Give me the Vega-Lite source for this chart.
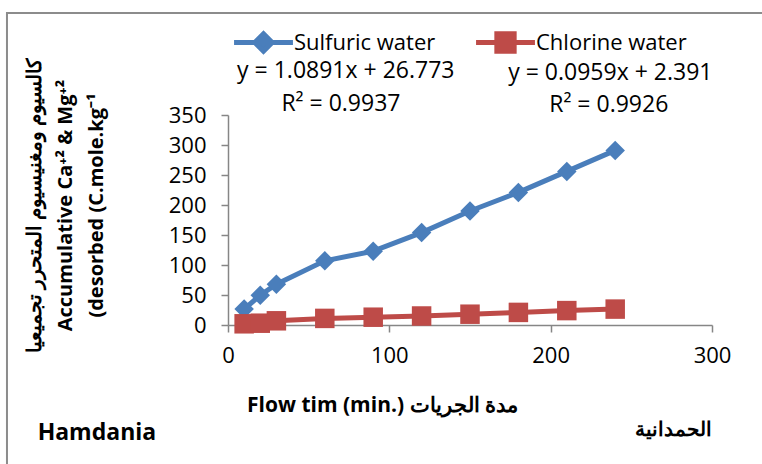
{
  "$schema": "https://vega.github.io/schema/vega-lite/v6.json",
  "width": 484,
  "height": 210,
  "autosize": {"type": "none"},
  "padding": {"left": 228, "top": 115, "right": 50, "bottom": 139},
  "background": "white",
  "config": {
    "view": {"stroke": null},
    "font": "Open Sans",
    "axisX": {
      "grid": false, "labelFlush": false, "labelOverlap": false, "tickCount": 3,
      "domainColor": "#868686", "tickColor": "#868686", "domainWidth": 1.5, "tickWidth": 1.5,
      "tickSize": 7, "labelFont": "Open Sans", "labelFontSize": 22, "labelColor": "black", "labelPadding": 13,
      "titleFont": "Open Sans", "titleFontWeight": "bold", "titleFontSize": 21, "titleColor": "black",
      "titleX": 154, "titleY": 80, "titleBaseline": "middle", "titleAlign": "center"
    },
    "axisY": {
      "grid": false, "labelOverlap": false, "tickCount": 7,
      "domainColor": "#868686", "tickColor": "#868686", "domainWidth": 1.5, "tickWidth": 1.5,
      "tickSize": 7, "labelFont": "Open Sans", "labelFontSize": 22, "labelColor": "black", "labelPadding": 15,
      "titleFont": "Open Sans", "titleFontWeight": "bold", "titleFontSize": 20, "titleColor": "black",
      "titleAngle": 270, "titleX": -204, "titleY": 90, "titleAlign": "center", "titleBaseline": "top",
      "titleLineHeight": 31
    }
  },
  "data": {
    "values": [
      {"series": "Sulfuric water", "time": 10, "value": 26.5},
      {"series": "Sulfuric water", "time": 20, "value": 49.7},
      {"series": "Sulfuric water", "time": 30, "value": 68},
      {"series": "Sulfuric water", "time": 60, "value": 107},
      {"series": "Sulfuric water", "time": 90, "value": 123},
      {"series": "Sulfuric water", "time": 120, "value": 154},
      {"series": "Sulfuric water", "time": 150, "value": 190},
      {"series": "Sulfuric water", "time": 180, "value": 221},
      {"series": "Sulfuric water", "time": 210, "value": 256},
      {"series": "Sulfuric water", "time": 240, "value": 291},
      {"series": "Chlorine water", "time": 10, "value": 2},
      {"series": "Chlorine water", "time": 20, "value": 3},
      {"series": "Chlorine water", "time": 30, "value": 7},
      {"series": "Chlorine water", "time": 60, "value": 11},
      {"series": "Chlorine water", "time": 90, "value": 13},
      {"series": "Chlorine water", "time": 120, "value": 15},
      {"series": "Chlorine water", "time": 150, "value": 18},
      {"series": "Chlorine water", "time": 180, "value": 21},
      {"series": "Chlorine water", "time": 210, "value": 24},
      {"series": "Chlorine water", "time": 240, "value": 26.5}
    ]
  },
  "layer": [
    {
      "data": {"values": [{"frame": "chart area"}]},
      "mark": {"type": "rect", "fill": null, "stroke": "#8c8c8c", "strokeWidth": 2},
      "encoding": {
        "x": {"datum": -137, "type": "quantitative", "scale": {"domain": [0, 300], "nice": false, "zero": false}, "axis": {"title": "Flow tim (min.) مدة الجريات"}},
        "x2": {"datum": 340},
        "y": {"datum": 520, "type": "quantitative", "scale": {"domain": [0, 350], "nice": false, "zero": false}, "axis": {"title": ["كالسيوم ومغنيسيوم المتحرر تجميعيا", "Accumulative Ca⁺² & Mg⁺²", "(desorbed (C.mole.kg⁻¹"]}},
        "y2": {"datum": -260}
      }
    },
    {
      "transform": [{"filter": "datum.series === 'Sulfuric water'"}],
      "layer": [
        {
          "mark": {"type": "line", "strokeWidth": 5},
          "encoding": {
            "x": {"field": "time", "type": "quantitative", "axis": {"title": "Flow tim (min.) مدة الجريات"}},
            "y": {"field": "value", "type": "quantitative", "axis": {"title": ["كالسيوم ومغنيسيوم المتحرر تجميعيا", "Accumulative Ca⁺² & Mg⁺²", "(desorbed (C.mole.kg⁻¹"]}},
            "color": {
              "field": "series", "type": "nominal",
              "scale": {"domain": ["Sulfuric water"], "range": ["#4A7EBB"]},
              "legend": {
                "orient": "none", "legendX": 24, "legendY": -84, "title": null, "padding": 0,
                "labelFont": "Open Sans", "labelFontSize": 22, "labelColor": "black",
                "symbolType": "M-3.4,0L3.4,0M-1,0L0,-1L1,0L0,1Z",
                "symbolSize": 300, "labelOffset": 19,
                "symbolStrokeWidth": 5, "symbolFillColor": "#4A7EBB", "symbolStrokeColor": "#4A7EBB"
              }
            }
          }
        },
        {
          "mark": {"type": "point", "shape": "diamond", "filled": true, "size": 380, "color": "#4A7EBB", "opacity": 1},
          "encoding": {
            "x": {"field": "time", "type": "quantitative", "axis": {"title": "Flow tim (min.) مدة الجريات"}},
            "y": {"field": "value", "type": "quantitative", "axis": {"title": ["كالسيوم ومغنيسيوم المتحرر تجميعيا", "Accumulative Ca⁺² & Mg⁺²", "(desorbed (C.mole.kg⁻¹"]}}
          }
        }
      ]
    },
    {
      "transform": [{"filter": "datum.series === 'Chlorine water'"}],
      "layer": [
        {
          "mark": {"type": "line", "strokeWidth": 5},
          "encoding": {
            "x": {"field": "time", "type": "quantitative", "axis": {"title": "Flow tim (min.) مدة الجريات"}},
            "y": {"field": "value", "type": "quantitative", "axis": {"title": ["كالسيوم ومغنيسيوم المتحرر تجميعيا", "Accumulative Ca⁺² & Mg⁺²", "(desorbed (C.mole.kg⁻¹"]}},
            "color": {
              "field": "series", "type": "nominal",
              "scale": {"domain": ["Chlorine water"], "range": ["#BE4B48"]},
              "legend": {
                "orient": "none", "legendX": 266, "legendY": -84, "title": null, "padding": 0,
                "labelFont": "Open Sans", "labelFontSize": 22, "labelColor": "black",
                "symbolType": "M-3.4,0L3.4,0M-1,-1L1,-1L1,1L-1,1Z",
                "symbolSize": 300, "labelOffset": 19,
                "symbolStrokeWidth": 5, "symbolFillColor": "#BE4B48", "symbolStrokeColor": "#BE4B48"
              }
            }
          }
        },
        {
          "mark": {"type": "point", "shape": "square", "filled": true, "size": 380, "color": "#BE4B48", "opacity": 1},
          "encoding": {
            "x": {"field": "time", "type": "quantitative", "axis": {"title": "Flow tim (min.) مدة الجريات"}},
            "y": {"field": "value", "type": "quantitative", "axis": {"title": ["كالسيوم ومغنيسيوم المتحرر تجميعيا", "Accumulative Ca⁺² & Mg⁺²", "(desorbed (C.mole.kg⁻¹"]}}
          }
        }
      ]
    },
    {
      "data": {"values": [{"label": "y = 1.0891x + 26.773"}]},
      "mark": {"type": "text", "font": "Open Sans", "fontSize": 23, "color": "black", "align": "center", "baseline": "middle"},
      "encoding": {"x": {"datum": 73, "type": "quantitative", "axis": {"title": "Flow tim (min.) مدة الجريات"}}, "y": {"datum": 423, "type": "quantitative", "axis": {"title": ["كالسيوم ومغنيسيوم المتحرر تجميعيا", "Accumulative Ca⁺² & Mg⁺²", "(desorbed (C.mole.kg⁻¹"]}}, "text": {"field": "label"}}
    },
    {
      "data": {"values": [{"label": "R² = 0.9937"}]},
      "mark": {"type": "text", "font": "Open Sans", "fontSize": 23, "color": "black", "align": "center", "baseline": "middle"},
      "encoding": {"x": {"datum": 70, "type": "quantitative", "axis": {"title": "Flow tim (min.) مدة الجريات"}}, "y": {"datum": 369, "type": "quantitative", "axis": {"title": ["كالسيوم ومغنيسيوم المتحرر تجميعيا", "Accumulative Ca⁺² & Mg⁺²", "(desorbed (C.mole.kg⁻¹"]}}, "text": {"field": "label"}}
    },
    {
      "data": {"values": [{"label": "y = 0.0959x + 2.391"}]},
      "mark": {"type": "text", "font": "Open Sans", "fontSize": 23, "color": "black", "align": "center", "baseline": "middle"},
      "encoding": {"x": {"datum": 237, "type": "quantitative", "axis": {"title": "Flow tim (min.) مدة الجريات"}}, "y": {"datum": 420, "type": "quantitative", "axis": {"title": ["كالسيوم ومغنيسيوم المتحرر تجميعيا", "Accumulative Ca⁺² & Mg⁺²", "(desorbed (C.mole.kg⁻¹"]}}, "text": {"field": "label"}}
    },
    {
      "data": {"values": [{"label": "R² = 0.9926"}]},
      "mark": {"type": "text", "font": "Open Sans", "fontSize": 23, "color": "black", "align": "center", "baseline": "middle"},
      "encoding": {"x": {"datum": 236, "type": "quantitative", "axis": {"title": "Flow tim (min.) مدة الجريات"}}, "y": {"datum": 367, "type": "quantitative", "axis": {"title": ["كالسيوم ومغنيسيوم المتحرر تجميعيا", "Accumulative Ca⁺² & Mg⁺²", "(desorbed (C.mole.kg⁻¹"]}}, "text": {"field": "label"}}
    },
    {
      "data": {"values": [{"label": "Hamdania"}]},
      "mark": {"type": "text", "font": "Open Sans", "fontSize": 23, "fontWeight": "bold", "color": "black", "align": "left", "baseline": "middle"},
      "encoding": {"x": {"datum": -118, "type": "quantitative", "axis": {"title": "Flow tim (min.) مدة الجريات"}}, "y": {"datum": -180, "type": "quantitative", "axis": {"title": ["كالسيوم ومغنيسيوم المتحرر تجميعيا", "Accumulative Ca⁺² & Mg⁺²", "(desorbed (C.mole.kg⁻¹"]}}, "text": {"field": "label"}}
    },
    {
      "data": {"values": [{"label": "الحمدانية"}]},
      "mark": {"type": "text", "font": "Open Sans", "fontSize": 20, "fontWeight": "bold", "color": "black", "align": "right", "baseline": "middle"},
      "encoding": {"x": {"datum": 300, "type": "quantitative", "axis": {"title": "Flow tim (min.) مدة الجريات"}}, "y": {"datum": -175, "type": "quantitative", "axis": {"title": ["كالسيوم ومغنيسيوم المتحرر تجميعيا", "Accumulative Ca⁺² & Mg⁺²", "(desorbed (C.mole.kg⁻¹"]}}, "text": {"field": "label"}}
    }
  ],
  "resolve": {"scale": {"color": "independent"}, "legend": {"color": "independent"}}
}
